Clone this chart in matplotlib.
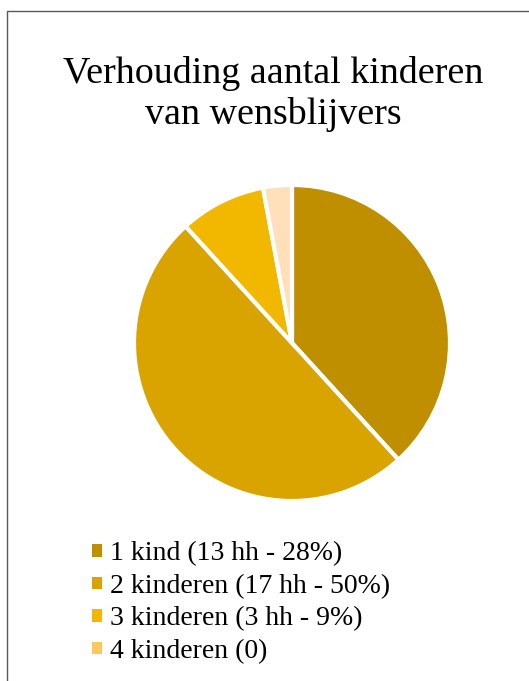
import matplotlib
matplotlib.use("Agg")
import matplotlib.pyplot as plt
from matplotlib.patches import Rectangle, Patch

title = "Verhouding aantal kinderen\nvan wensblijvers"
categories = ["1 kind (13 hh - 28%)", "2 kinderen (17 hh - 50%)",
              "3 kinderen (3 hh - 9%)", "4 kinderen (0)"]
values = [13, 17, 3, 1]
slice_colors = ["#BF8F00", "#D9A400", "#F2B800", "#FFE0BA"]
legend_colors = ["#BF8F00", "#D9A400", "#F2B800", "#FFC85C"]

W, H = 529, 681
fig = plt.figure(figsize=(W / 100, H / 100), dpi=100)
plt.rcParams['font.family'] = ['Liberation Serif', 'DejaVu Serif']

# outer border (extends past the right/bottom edge)
fig.patches.append(Rectangle((7 / W, 0 - 0.01), 1.1, 1 - 11 / H + 0.01,
                             transform=fig.transFigure, fill=False,
                             edgecolor="#595959", linewidth=1.0))

fig.text(273 / W, 1 - 94 / H, title, ha="center", va="center",
         fontsize=27.4, linespacing=1.22, color="#000000")

cx, cy, r = 292, 343, 158
ax = fig.add_axes([(cx - r) / W, 1 - (cy + r) / H, 2 * r / W, 2 * r / H])
ax.pie(values, colors=slice_colors, startangle=90, counterclock=False,
       wedgeprops=dict(edgecolor="white", linewidth=3))
ax.set_xlim(-1, 1)
ax.set_ylim(-1, 1)
ax.set_aspect("equal")
ax.axis("off")

handles = [Patch(facecolor=c, edgecolor="none") for c in legend_colors]
fig.legend(handles, categories, loc="upper left",
           bbox_to_anchor=(73 / W, 1 - 522 / H), frameon=False,
           fontsize=20, handlelength=0.33, handleheight=0.33,
           handletextpad=0.3, labelspacing=0.27, borderpad=0.2)

fig.savefig("out.png", dpi=100, facecolor="white")
